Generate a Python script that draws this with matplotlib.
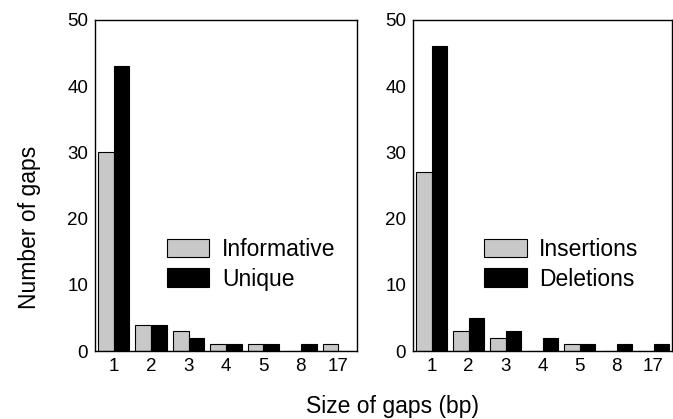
import matplotlib.pyplot as plt
import numpy as np

plt.rcParams['font.family'] = ['Liberation Sans', 'DejaVu Sans']

gap_sizes = ['1', '2', '3', '4', '5', '8', '17']
informative = [30, 4, 3, 1, 1, 0, 1]
unique = [43, 4, 2, 1, 1, 1, 0]
insertions = [27, 3, 2, 0, 1, 0, 0]
deletions = [46, 5, 3, 2, 1, 1, 1]

W, H = 673, 419
fig = plt.figure(figsize=(W / 100, H / 100), dpi=100)

ax1 = fig.add_axes([95 / W, 68 / H, 262 / W, 331 / H])
ax2 = fig.add_axes([413 / W, 68 / H, 259 / W, 331 / H])

x = np.arange(len(gap_sizes))
bw = 0.42
gray = '#c8c8c8'


def draw_panel(ax, light, dark, labels):
    ax.bar(x - bw / 2, light, bw, color=gray, edgecolor='black', linewidth=0.8, label=labels[0])
    ax.bar(x + bw / 2, dark, bw, color='black', edgecolor='black', linewidth=0.8, label=labels[1])
    ax.set_xlim(-0.5, 6.5)
    ax.set_ylim(0, 50)
    ax.set_yticks([0, 10, 20, 30, 40, 50])
    ax.set_xticks(x)
    ax.set_xticklabels(gap_sizes)
    ax.tick_params(length=0, labelsize=13.5, pad=5)
    for s in ax.spines.values():
        s.set_linewidth(1.0)
    leg = ax.legend(loc='upper left', bbox_to_anchor=(0.24, 0.37), frameon=False,
                    fontsize=16.5, handlelength=1.85, handleheight=0.85,
                    handletextpad=0.55, labelspacing=0.3, borderaxespad=0)
    return leg


draw_panel(ax1, informative, unique, ['Informative', 'Unique'])
draw_panel(ax2, insertions, deletions, ['Insertions', 'Deletions'])

fig.text(30 / W, 1 - 227 / H, 'Number of gaps', rotation=90, ha='center', va='center', fontsize=16.5)
fig.text(392 / W, 1 - 413 / H, 'Size of gaps (bp)', ha='center', va='baseline', fontsize=16.5)

fig.savefig('out.png', dpi=100)
